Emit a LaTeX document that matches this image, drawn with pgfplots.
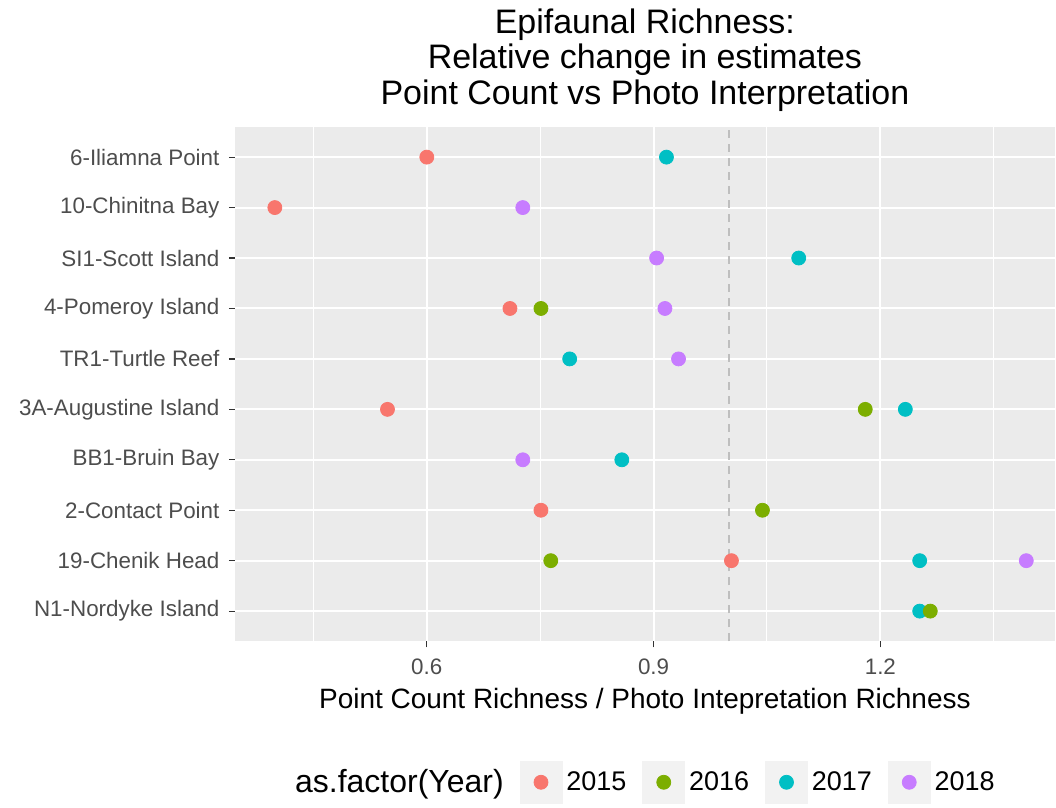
\documentclass[border=0pt]{standalone}
\usepackage{fontspec}
\setmainfont{Liberation Sans}
\usepackage{pgfplots}
\pgfplotsset{compat=1.18}

\definecolor{c15}{HTML}{F8766D}
\definecolor{c16}{HTML}{7CAE00}
\definecolor{c17}{HTML}{00BFC4}
\definecolor{c18}{HTML}{C77CFF}
\definecolor{panelbg}{HTML}{EBEBEB}
\definecolor{keybg}{HTML}{F2F2F2}
\definecolor{ticktext}{HTML}{4D4D4D}
\definecolor{tickmark}{HTML}{333333}
\definecolor{refline}{HTML}{BEBEBE}

\pgfplotsset{
  yearkey/.style={only marks, mark=*, mark size=3.5pt, color=#1,
    legend image code/.code={
      \fill[keybg] (0pt,-10.5pt) rectangle (21pt,10.5pt);
      \draw[only marks] plot coordinates {(10.5pt,0pt)};}},
  yearpts/.style={only marks, mark=*, mark size=3.5pt, color=#1, forget plot},
}

\begin{document}
\begin{tikzpicture}
\begin{axis}[
  scale only axis,
  width=410.5pt, height=257.5pt,
  xmin=0.346, xmax=1.431,
  ymin=0.4, ymax=10.6,
  axis background/.style={fill=panelbg},
  axis line style={draw=none},
  xtick={0.6,0.9,1.2},
  minor xtick={0.45,0.75,1.05,1.35},
  ytick={1,...,10},
  yticklabels={N1-Nordyke Island,19-Chenik Head,2-Contact Point,BB1-Bruin Bay,
    3A-Augustine Island,TR1-Turtle Reef,4-Pomeroy Island,SI1-Scott Island,
    10-Chinitna Bay,6-Iliamna Point},
  grid=both,
  major grid style={white, line width=1pt},
  minor grid style={white, line width=0.5pt},
  tick align=outside,
  major tick length=3pt, minor tick length=0pt,
  tick style={tickmark, line width=0.6pt},
  xtick pos=bottom, ytick pos=left,
  /pgf/number format/assume math mode=true,
  ticklabel style={font=\fontsize{11.2}{13}\selectfont, text=ticktext},
  xticklabel style={inner sep=0pt, yshift=-5.5pt},
  yticklabel style={inner sep=0pt, xshift=-4.5pt},
  title={Epifaunal Richness:\\Relative change in estimates\\Point Count vs Photo Interpretation},
  title style={at={(axis description cs:0.5,1)}, anchor=south, yshift=1.5pt,
    inner sep=0pt, align=center, font=\fontsize{17}{17.75}\selectfont},
  xlabel={Point Count Richness / Photo Intepretation Richness},
  xlabel style={at={(axis description cs:0.5,0)}, anchor=base, yshift=-33.5pt,
    inner sep=0pt, font=\fontsize{14}{16}\selectfont},
  legend columns=-1,
  legend style={draw=none, fill=none, at={(0.5,-0.2738)}, anchor=center,
    font=\fontsize{13.5}{15}\selectfont, cells={anchor=west},
    /tikz/every even column/.append style={column sep=6pt}},
]

% legend entries
\addlegendimage{empty legend}
\addlegendentry{\fontsize{16}{18}\selectfont as.factor(Year)}
\addlegendimage{yearkey=c15}
\addlegendentry{2015}
\addlegendimage{yearkey=c16}
\addlegendentry{2016}
\addlegendimage{yearkey=c17}
\addlegendentry{2017}
\addlegendimage{yearkey=c18}
\addlegendentry{2018}

% reference line at 1
\addplot[refline, line width=0.8pt, dash pattern=on 4pt off 3pt, forget plot]
  coordinates {(1,0.4) (1,10.6)};

% 2015
\addplot[yearpts=c15] coordinates {
  (0.600,10) (0.399,9) (0.710,7) (0.548,5) (0.751,3) (1.003,2)
};
% 2017
\addplot[yearpts=c17] coordinates {
  (0.917,10) (1.092,8) (0.789,6) (1.233,5) (0.858,4) (1.252,2) (1.252,1)
};
% 2018
\addplot[yearpts=c18] coordinates {
  (0.727,9) (0.904,8) (0.915,7) (0.933,6) (0.727,4) (1.393,2)
};
% 2016
\addplot[yearpts=c16] coordinates {
  (0.751,7) (1.180,5) (1.044,3) (0.764,2) (1.266,1)
};

\end{axis}
\path (-117.5pt,-79.5pt) rectangle (410.5pt,321pt);
\end{tikzpicture}
\end{document}
